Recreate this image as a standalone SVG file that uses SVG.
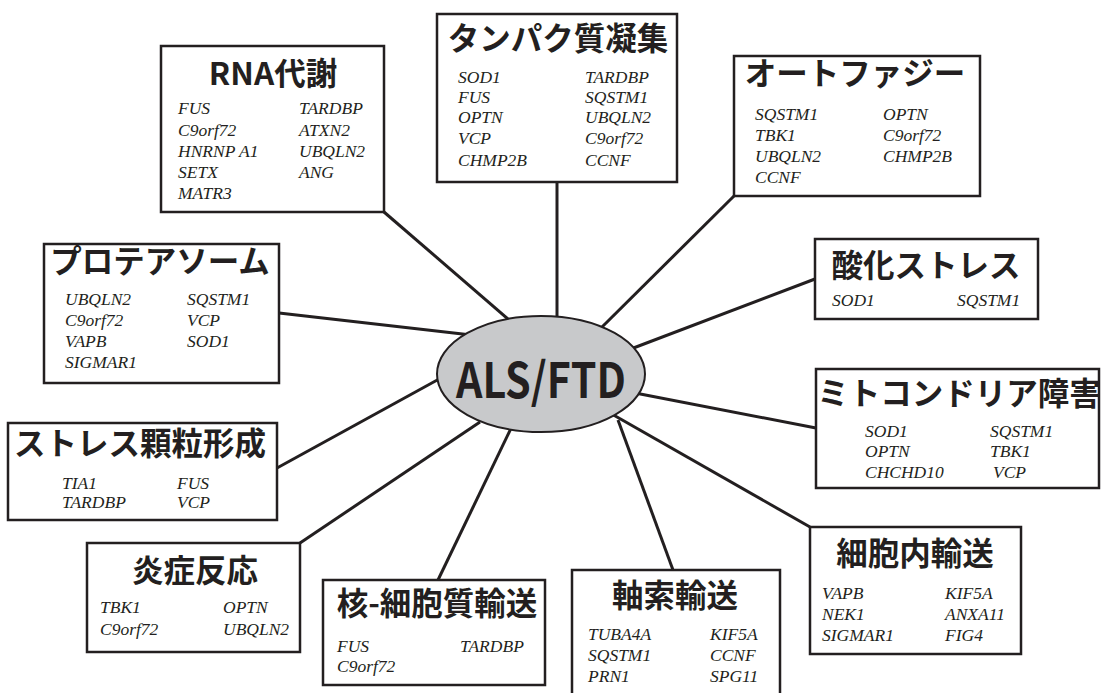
<svg xmlns="http://www.w3.org/2000/svg" width="1102" height="693" viewBox="0 0 1102 693">
<style>
.box{fill:#fff;stroke:#231f20;stroke-width:2.5}
.ttl{font-family:"Noto Sans CJK JP","Noto Sans",sans-serif;font-weight:700;font-size:31.5px;fill:#231f20;text-anchor:middle}
.g{font-family:"Liberation Serif","Times New Roman",serif;font-style:italic;font-size:17.5px;fill:#231f20}
.cn line{stroke:#231f20;stroke-width:3}
</style>
<rect width="1102" height="693" fill="#fff"/>
<g class="cn" id="connectors">
<line x1="384" y1="212" x2="522" y2="331"/>
<line x1="557" y1="182" x2="557" y2="330"/>
<line x1="734" y1="196" x2="600" y2="329"/>
<line x1="815" y1="279" x2="615" y2="355"/>
<line x1="816" y1="428" x2="630" y2="392"/>
<line x1="810" y1="527" x2="610" y2="413"/>
<line x1="673" y1="570" x2="618" y2="420"/>
<line x1="438" y1="580" x2="515" y2="420"/>
<line x1="300" y1="543" x2="480" y2="422"/>
<line x1="277" y1="468" x2="450" y2="373"/>
<line x1="279" y1="313" x2="480" y2="336"/>
</g>
<g id="center">
<ellipse cx="541" cy="374" rx="104" ry="58" fill="#c8c9cb" stroke="#231f20" stroke-width="2"/>
<text x="541" y="398" font-family="'Noto Sans CJK JP','Noto Sans',sans-serif" font-weight="700" font-size="49" fill="#231f20" text-anchor="middle" textLength="170" lengthAdjust="spacingAndGlyphs">ALS/FTD</text>
</g>
<g id="rna">
<rect class="box" x="161" y="46" width="223" height="166"/>
<text class="ttl" x="273" y="85">RNA代謝</text>
<text class="g" x="178" y="114">FUS</text><text class="g" x="299" y="114">TARDBP</text>
<text class="g" x="178" y="136">C9orf72</text><text class="g" x="299" y="136">ATXN2</text>
<text class="g" x="178" y="157">HNRNP A1</text><text class="g" x="299" y="157">UBQLN2</text>
<text class="g" x="178" y="178">SETX</text><text class="g" x="299" y="178">ANG</text>
<text class="g" x="178" y="199">MATR3</text>
</g>
<g id="protein">
<rect class="box" x="437" y="14" width="240" height="168"/>
<text class="ttl" x="558" y="50">タンパク質凝集</text>
<text class="g" x="458" y="83">SOD1</text><text class="g" x="585" y="83">TARDBP</text>
<text class="g" x="458" y="103">FUS</text><text class="g" x="585" y="103">SQSTM1</text>
<text class="g" x="458" y="123">OPTN</text><text class="g" x="585" y="123">UBQLN2</text>
<text class="g" x="458" y="144">VCP</text><text class="g" x="585" y="144">C9orf72</text>
<text class="g" x="458" y="166">CHMP2B</text><text class="g" x="585" y="166">CCNF</text>
</g>
<g id="autophagy">
<rect class="box" x="734" y="56" width="246" height="140"/>
<text class="ttl" x="855" y="85">オートファジー</text>
<text class="g" x="755" y="120">SQSTM1</text><text class="g" x="883" y="120">OPTN</text>
<text class="g" x="755" y="141">TBK1</text><text class="g" x="883" y="141">C9orf72</text>
<text class="g" x="755" y="162">UBQLN2</text><text class="g" x="883" y="162">CHMP2B</text>
<text class="g" x="755" y="183">CCNF</text>
</g>
<g id="oxidative">
<rect class="box" x="815" y="239" width="223" height="80"/>
<text class="ttl" x="926" y="277">酸化ストレス</text>
<text class="g" x="832" y="306">SOD1</text><text class="g" x="957" y="306">SQSTM1</text>
</g>
<g id="mito">
<rect class="box" x="816" y="369" width="283" height="119"/>
<text class="ttl" x="959" y="405">ミトコンドリア障害</text>
<text class="g" x="865" y="437">SOD1</text><text class="g" x="990" y="437">SQSTM1</text>
<text class="g" x="865" y="457">OPTN</text><text class="g" x="990" y="457">TBK1</text>
<text class="g" x="865" y="478">CHCHD10</text><text class="g" x="993" y="478">VCP</text>
</g>
<g id="intracellular">
<rect class="box" x="810" y="527" width="211" height="127"/>
<text class="ttl" x="915" y="565">細胞内輸送</text>
<text class="g" x="822" y="599">VAPB</text><text class="g" x="945" y="599">KIF5A</text>
<text class="g" x="822" y="620">NEK1</text><text class="g" x="945" y="620">ANXA11</text>
<text class="g" x="822" y="641">SIGMAR1</text><text class="g" x="945" y="641">FIG4</text>
</g>
<g id="axonal">
<rect class="box" x="572" y="570" width="208" height="130"/>
<text class="ttl" x="675" y="607">軸索輸送</text>
<text class="g" x="588" y="640">TUBA4A</text><text class="g" x="710" y="640">KIF5A</text>
<text class="g" x="588" y="661">SQSTM1</text><text class="g" x="710" y="661">CCNF</text>
<text class="g" x="588" y="682">PRN1</text><text class="g" x="710" y="682">SPG11</text>
</g>
<g id="nucleo">
<rect class="box" x="323" y="580" width="222" height="105"/>
<text class="ttl" x="437" y="615">核-細胞質輸送</text>
<text class="g" x="337" y="652">FUS</text><text class="g" x="460" y="652">TARDBP</text>
<text class="g" x="337" y="672">C9orf72</text>
</g>
<g id="inflammation">
<rect class="box" x="87" y="543" width="213" height="109"/>
<text class="ttl" x="195" y="582">炎症反応</text>
<text class="g" x="100" y="613">TBK1</text><text class="g" x="223" y="613">OPTN</text>
<text class="g" x="100" y="635">C9orf72</text><text class="g" x="223" y="635">UBQLN2</text>
</g>
<g id="stressgranule">
<rect class="box" x="8" y="423" width="269" height="97"/>
<text class="ttl" x="140" y="455">ストレス顆粒形成</text>
<text class="g" x="62" y="489">TIA1</text><text class="g" x="177" y="489">FUS</text>
<text class="g" x="62" y="508">TARDBP</text><text class="g" x="177" y="508">VCP</text>
</g>
<g id="proteasome">
<rect class="box" x="44" y="244" width="235" height="139"/>
<text class="ttl" x="160" y="273">プロテアソーム</text>
<text class="g" x="65" y="305">UBQLN2</text><text class="g" x="187" y="305">SQSTM1</text>
<text class="g" x="65" y="326">C9orf72</text><text class="g" x="187" y="326">VCP</text>
<text class="g" x="65" y="347">VAPB</text><text class="g" x="187" y="347">SOD1</text>
<text class="g" x="65" y="368">SIGMAR1</text>
</g>
</svg>
